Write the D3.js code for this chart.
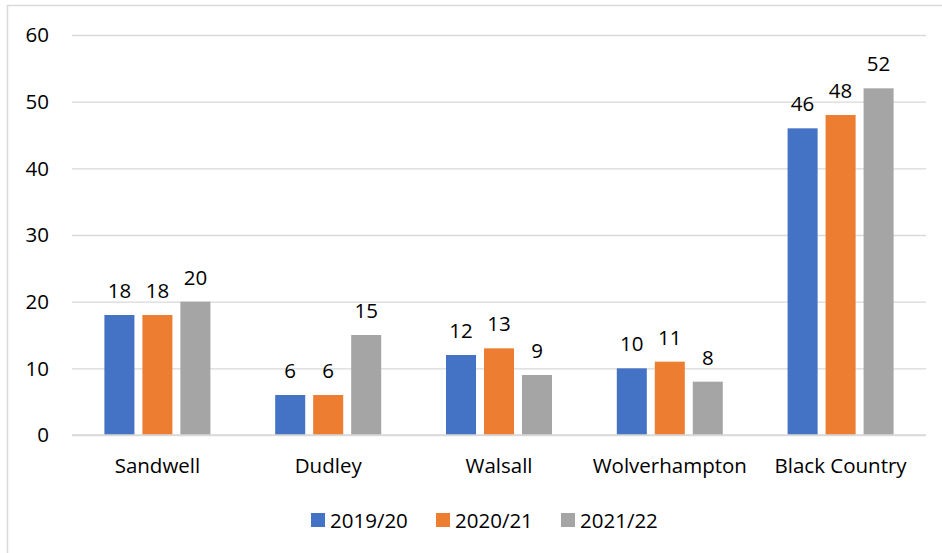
<!DOCTYPE html>
<html>
<head>
<meta charset="utf-8">
<script src="https://cdn.jsdelivr.net/npm/d3@7"></script>
<style>
  html, body { margin: 0; padding: 0; background: #fff; }
  svg text { font-family: "Open Sans", "Liberation Sans", sans-serif; fill: #000; }
</style>
</head>
<body>
<svg id="chart" width="942" height="553"></svg>
<script>
const categories = ["Sandwell", "Dudley", "Walsall", "Wolverhampton", "Black Country"];
const seriesNames = ["2019/20", "2020/21", "2021/22"];
const values2019 = [18, 6, 12, 10, 46];
const values2020 = [18, 6, 13, 11, 48];
const values2021 = [20, 15, 9, 8, 52];
const yTicks = [0, 10, 20, 30, 40, 50, 60];
const colors = ["#4472C4", "#ED7D31", "#A5A5A5"];

const series = [values2019, values2020, values2021];

const svg = d3.select("#chart");

// outer chart border
svg.append("rect")
    .attr("x", 7.5).attr("y", 5.5)
    .attr("width", 942).attr("height", 560)
    .attr("fill", "none")
    .attr("stroke", "#d9d9d9")
    .attr("stroke-width", 1.5);

const plotLeft = 72, plotRight = 926, plotTop = 35, plotBottom = 435;
const groupWidth = 106;

const x = d3.scaleBand()
    .domain(categories)
    .range([plotLeft, plotRight]);

const x1 = d3.scaleBand()
    .domain(seriesNames)
    .range([0, groupWidth])
    .paddingInner(0.21);

const y = d3.scaleLinear()
    .domain([0, 60])
    .range([plotBottom, plotTop]);

// gridlines
svg.append("g")
    .attr("transform", `translate(${plotLeft},0)`)
    .call(d3.axisLeft(y).tickValues(yTicks).tickSize(-(plotRight - plotLeft)).tickFormat(""))
    .call(g => g.select(".domain").remove())
    .call(g => g.selectAll("line").attr("stroke", "#d9d9d9").attr("stroke-width", 1.3));

// y tick labels
svg.append("g")
    .selectAll("text")
    .data(yTicks)
    .join("text")
    .attr("x", 49)
    .attr("y", d => y(d))
    .attr("dy", "0.36em")
    .attr("text-anchor", "end")
    .style("font-size", "20.5px")
    .text(d => d);

// bars
const groups = svg.append("g")
    .selectAll("g")
    .data(categories)
    .join("g")
    .attr("transform", c => `translate(${x(c) + x.bandwidth() / 2 - groupWidth / 2},0)`);

groups.selectAll("rect")
    .data((c, i) => series.map((s, j) => ({ name: seriesNames[j], value: s[i], color: colors[j] })))
    .join("rect")
    .attr("x", d => x1(d.name))
    .attr("y", d => y(d.value))
    .attr("width", x1.bandwidth())
    .attr("height", d => plotBottom - y(d.value))
    .attr("fill", d => d.color);

// data labels
groups.selectAll("text.label")
    .data((c, i) => series.map((s, j) => ({ name: seriesNames[j], value: s[i] })))
    .join("text")
    .attr("class", "label")
    .attr("x", d => x1(d.name) + x1.bandwidth() / 2)
    .attr("y", d => y(d.value) - 17)
    .attr("text-anchor", "middle")
    .style("font-size", "20.5px")
    .text(d => d.value);

// baseline
svg.append("line")
    .attr("x1", plotLeft).attr("x2", plotRight)
    .attr("y1", plotBottom).attr("y2", plotBottom)
    .attr("stroke", "#d9d9d9")
    .attr("stroke-width", 1.5);

// category labels
svg.append("g")
    .selectAll("text")
    .data(categories)
    .join("text")
    .attr("x", c => x(c) + x.bandwidth() / 2)
    .attr("y", 473)
    .attr("text-anchor", "middle")
    .style("font-size", "20.5px")
    .text(c => c);

// legend
const legendX = [311, 436, 561];
const legend = svg.append("g")
    .selectAll("g")
    .data(seriesNames)
    .join("g")
    .attr("transform", (d, i) => `translate(${legendX[i]},513)`);

legend.append("rect")
    .attr("width", 14).attr("height", 14)
    .attr("fill", (d, i) => colors[i]);

legend.append("text")
    .attr("x", 19)
    .attr("y", 14.5)
    .style("font-size", "20.5px")
    .text(d => d);
</script>
</body>
</html>
